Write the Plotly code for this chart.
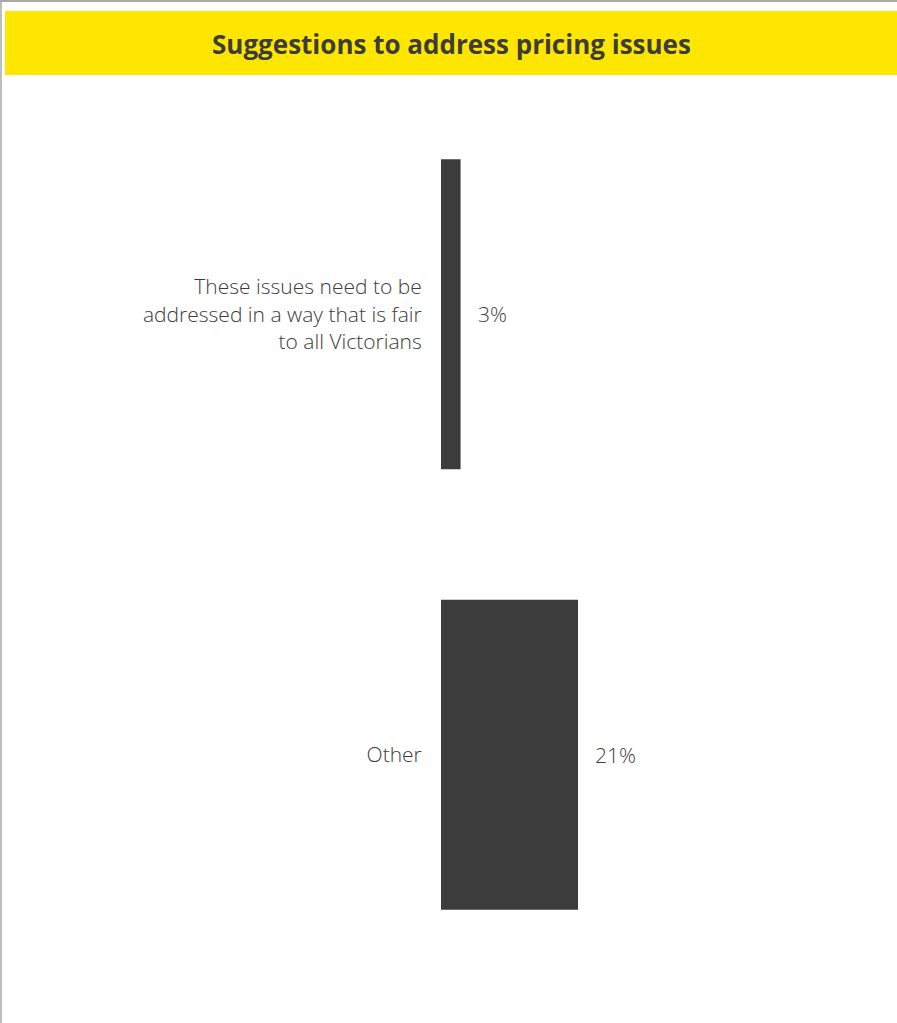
import plotly.graph_objects as go

# ---- data ----
categories = [
    "These issues need to be<br>addressed in a way that is fair<br>to all Victorians",
    "Other",
]
values = [3, 21]
value_labels = ["3%", "21%"]
title_text = "Suggestions to address pricing issues"

# ---- layout geometry (pixels) ----
W, H = 897, 1023
ML, MR, MT, MB = 441, 0, 94, 48
PW, PH = W - ML - MR, H - MT - MB
PX_PER_UNIT = 137 / 21.0
XMAX = PW / PX_PER_UNIT

def px_x(px):
    return (px - ML) / PW

def px_y(py):
    return (H - MB - py) / PH

DARK = "#3c3c3c"
TEXT = "#3c3c3c"
YELLOW = "#ffe600"
FONT = "Open Sans"

fig = go.Figure()
fig.add_trace(go.Bar(
    x=values,
    y=categories,
    orientation="h",
    marker=dict(color=DARK, line=dict(width=0)),
    hoverinfo="skip",
))

for v, c, lab in zip(values, categories, value_labels):
    fig.add_annotation(
        x=v, y=c, xref="x", yref="y",
        text=lab, showarrow=False,
        xanchor="left", yanchor="middle", xshift=15,
        font=dict(family=FONT, size=21, color=TEXT, weight=300),
    )

# banner
fig.add_shape(type="rect", xref="paper", yref="paper",
              x0=px_x(5), x1=px_x(W + 2), y0=px_y(75), y1=px_y(11),
              fillcolor=YELLOW, line=dict(width=0), layer="below")
# borders
fig.add_shape(type="line", xref="paper", yref="paper",
              x0=px_x(0), x1=px_x(W), y0=px_y(1), y1=px_y(1),
              line=dict(color="#8c8c8c", width=1.5))
fig.add_shape(type="line", xref="paper", yref="paper",
              x0=px_x(1), x1=px_x(1), y0=px_y(1), y1=px_y(H),
              line=dict(color="#a8a8a8", width=1.5))

fig.add_annotation(
    x=px_x(451), y=px_y(44), xref="paper", yref="paper",
    text="<b>" + title_text + "</b>", showarrow=False,
    xanchor="center", yanchor="middle",
    font=dict(family=FONT, size=26, color=DARK),
)

fig.update_layout(
    width=W, height=H,
    margin=dict(l=ML, r=MR, t=MT, b=MB, pad=0),
    paper_bgcolor="white", plot_bgcolor="white",
    bargap=0.296,
    showlegend=False,
    xaxis=dict(range=[0, XMAX], visible=False, showgrid=False, zeroline=False),
    yaxis=dict(
        categoryorder="array", categoryarray=categories,
        autorange="reversed", showgrid=False, zeroline=False, showline=False,
        ticks="outside", ticklen=14, tickcolor="rgba(0,0,0,0)",
        tickfont=dict(family=FONT, size=21, color=TEXT, weight=300),
    ),
)

fig.write_html("out.html", config={"displayModeBar": False},
               post_script="document.body.style.margin='0px';")
